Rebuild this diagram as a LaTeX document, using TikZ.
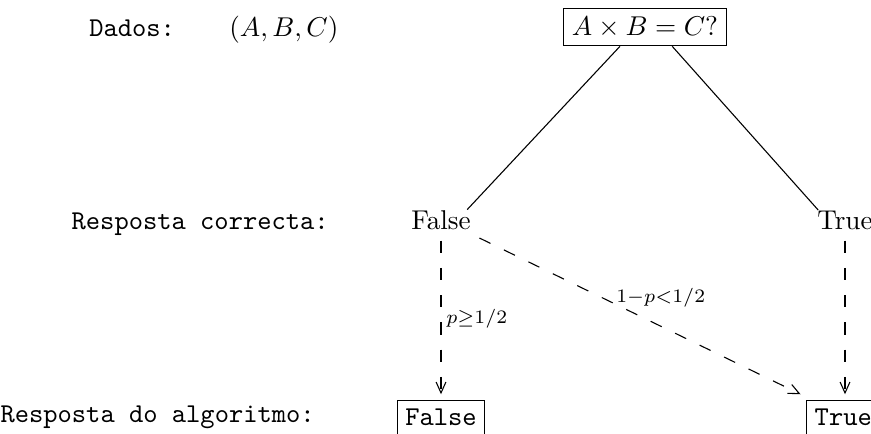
\documentclass[tikz,border=0pt]{standalone}
\usetikzlibrary{arrows.meta}
\begin{document}
\begin{tikzpicture}[x=0.3676pt,y=-0.3676pt,
  boxed/.style={draw,line width=0.4pt,inner sep=3pt},
  plain/.style={inner sep=1pt},
  dashedarrow/.style={draw,line width=0.4pt,dash pattern=on 4.5pt off 5.5pt,-{Straight Barb[length=4pt,width=3.6pt]}},
  edgelabel/.style={font=\scriptsize,inner sep=1pt}]
\useasboundingbox (0,0) rectangle (871,433);
% header
\node[plain,anchor=base west] (dados) at (86,36) {\texttt{Dados:}};
\node[plain,anchor=base west] (abc) at (226,36) {$(A,B,C)$};
\node[boxed] (top) at (645,27) {$A\times B=C?$};
% row labels
\node[plain,anchor=base east] (rc) at (332,229) {\texttt{Resposta correcta:}};
\node[plain,anchor=base east] (ra) at (318,422) {\texttt{Resposta do algoritmo:}};
% correct answers
\node[plain,anchor=base] (cf) at (441,229) {False};
\node[plain,anchor=base] (ct) at (845,229) {True};
% algorithm answers
\node[boxed,anchor=base,text depth=3pt] (af) at (441,425) {\texttt{False}};
\node[boxed,anchor=base west,text depth=3pt] (at) at (806,425) {\texttt{True}};
% solid tree lines
\coordinate (tl) at ([xshift=-9.2pt]top.south);
\coordinate (tr) at ([xshift=10pt]top.south);
\draw[line width=0.4pt] (tl) -- ([xshift=-2.5pt,yshift=-1pt]cf.north east);
\draw[line width=0.4pt] (tr) -- ([xshift=1.5pt,yshift=-1pt]ct.north west);
% dashed arrows
\coordinate (fa) at ([yshift=-3pt]cf.south);
\coordinate (fb) at ([xshift=2pt,yshift=-2pt]cf.south east);
\coordinate (ta) at ([yshift=-3pt]ct.south);
\draw[dashedarrow] (fa) -- ([yshift=2pt]af.north);
\draw[dashedarrow] (fb) -- ([xshift=-2pt,yshift=2pt]at.north west);
\draw[dashedarrow] (ta) -- ([yshift=2pt]at.north -| ta);
% edge labels
\node[edgelabel,anchor=west] (lp) at (443,319) {$p{\geq}1/2$};
\node[edgelabel,anchor=west] (lq) at (613,298) {$1{-}p{<}1/2$};
\end{tikzpicture}
\end{document}
